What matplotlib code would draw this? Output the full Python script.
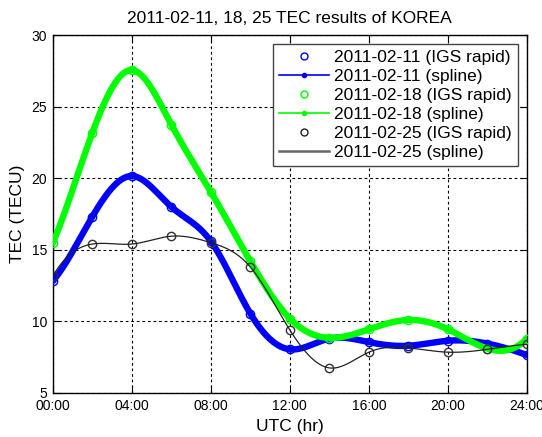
import numpy as np
import matplotlib
matplotlib.use("Agg")
import matplotlib.pyplot as plt
from matplotlib.lines import Line2D

plt.rcParams['font.family'] = ['Liberation Sans', 'DejaVu Sans']

hours = [0, 2, 4, 6, 8, 10, 12, 14, 16, 18, 20, 22, 24]
tec_0211 = [12.8, 17.3, 20.15, 18.0, 15.6, 10.55, 8.05, 8.8, 8.55, 8.3, 8.65, 8.45, 7.65]
tec_0218 = [15.45, 23.15, 27.55, 23.75, 19.05, 14.2, 10.2, 8.85, 9.45, 10.1, 9.45, 8.1, 8.8]
tec_0225 = [13.15, 15.4, 15.4, 15.95, 15.5, 13.8, 9.4, 6.75, 7.85, 8.15, 7.85, 8.05, 8.4]
xtick_labels = ["00:00", "04:00", "08:00", "12:00", "16:00", "20:00", "24:00"]
legend_labels = ["2011-02-11 (IGS rapid)", "2011-02-11 (spline)",
                 "2011-02-18 (IGS rapid)", "2011-02-18 (spline)",
                 "2011-02-25 (IGS rapid)", "2011-02-25 (spline)"]


def spline_notaknot(x, y, xs):
    x = np.asarray(x, float)
    y = np.asarray(y, float)
    n = len(x)
    h = np.diff(x)
    A = np.zeros((n, n))
    b = np.zeros(n)
    for i in range(1, n - 1):
        A[i, i - 1] = h[i - 1]
        A[i, i] = 2 * (h[i - 1] + h[i])
        A[i, i + 1] = h[i]
        b[i] = 6 * ((y[i + 1] - y[i]) / h[i] - (y[i] - y[i - 1]) / h[i - 1])
    A[0, 0] = h[1]
    A[0, 1] = -(h[0] + h[1])
    A[0, 2] = h[0]
    A[-1, -3] = h[-1]
    A[-1, -2] = -(h[-2] + h[-1])
    A[-1, -1] = h[-2]
    M = np.linalg.solve(A, b)
    xs = np.asarray(xs, float)
    idx = np.clip(np.searchsorted(x, xs) - 1, 0, n - 2)
    x0, x1 = x[idx], x[idx + 1]
    hh = x1 - x0
    t0 = x1 - xs
    t1 = xs - x0
    return (M[idx] * t0 ** 3 / (6 * hh) + M[idx + 1] * t1 ** 3 / (6 * hh)
            + (y[idx] / hh - M[idx] * hh / 6) * t0
            + (y[idx + 1] / hh - M[idx + 1] * hh / 6) * t1)


fig = plt.figure(figsize=(5.42, 4.37), dpi=100)
ax = fig.add_axes([0.0972, 0.1007, 0.8751, 0.8192])

xs = np.linspace(0, 24, 600)

ax.plot(hours, tec_0211, 'o', mfc='none', mec='blue', ms=6, mew=1, zorder=3)
ax.plot(xs, spline_notaknot(hours, tec_0211, xs), '-', color='blue', lw=4.6, zorder=3,
        solid_capstyle='round')
ax.plot(hours, tec_0218, 'o', mfc='none', mec='#00ff00', ms=6, mew=1, zorder=3)
ax.plot(xs, spline_notaknot(hours, tec_0218, xs), '-', color='#00ff00', lw=4.6, zorder=3,
        solid_capstyle='round')
ax.plot(hours, tec_0225, 'o', mfc='none', mec='#333333', ms=6, mew=1, zorder=4)
ax.plot(xs, spline_notaknot(hours, tec_0225, xs), '-', color='#222222', lw=0.9, zorder=4)

ax.set_xlim(0, 24)
ax.set_ylim(5, 30)
ax.set_xticks(np.arange(0, 25, 4))
ax.set_xticklabels(xtick_labels)
ax.set_yticks(np.arange(5, 31, 5))
ax.tick_params(direction='in', length=5, top=True, right=True, labelsize=10,
               colors='black', pad=4, width=0.8)
ax.grid(True, color='black', linestyle=(0, (2.5, 2.5)), lw=0.8)
ax.set_axisbelow(True)
for s in ax.spines.values():
    s.set_linewidth(1.0)
    s.set_color('black')

ax.set_title("2011-02-11, 18, 25 TEC results of KOREA", fontsize=12.5, pad=9)
ax.set_xlabel("UTC (hr)", fontsize=12.5, labelpad=5)
ax.set_ylabel("TEC (TECU)", fontsize=12.5, labelpad=5)

handles = [
    Line2D([], [], ls='none', marker='o', mfc='none', mec='blue', ms=5, mew=1),
    Line2D([], [], ls='-', color='blue', lw=1.2, marker='.', ms=6),
    Line2D([], [], ls='none', marker='o', mfc='none', mec='#00ff00', ms=5, mew=1),
    Line2D([], [], ls='-', color='#00ff00', lw=1.2, marker='.', ms=6),
    Line2D([], [], ls='none', marker='o', mfc='none', mec='#222222', ms=5, mew=1),
    Line2D([], [], ls='-', color='#666666', lw=1.8),
]
leg = ax.legend(handles, legend_labels, loc='upper right',
                bbox_to_anchor=(518 / 542, 1 - 44 / 437), bbox_transform=fig.transFigure,
                borderaxespad=0, fontsize=12.5, labelspacing=0.22, handlelength=2.9,
                handletextpad=0.3, borderpad=0.35, fancybox=False, framealpha=1,
                edgecolor='#444444')
leg.get_frame().set_linewidth(1.0)

fig.savefig("out.png", dpi=100, facecolor='white')
